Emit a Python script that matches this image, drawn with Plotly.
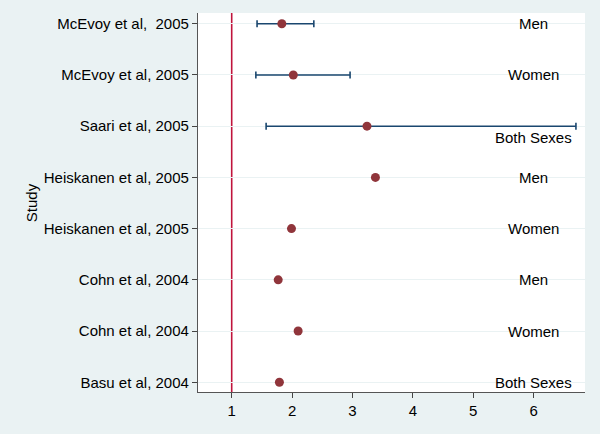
import plotly.graph_objects as go

studies = ["McEvoy et al,\u00a0 2005", "McEvoy et al, 2005", "Saari et al, 2005",
           "Heiskanen et al, 2005", "Heiskanen et al, 2005", "Cohn et al, 2004",
           "Cohn et al, 2004", "Basu et al, 2004"]
groups = ["Men", "Women", "Both Sexes", "Men", "Women", "Men", "Women", "Both Sexes"]
estimate = [1.83, 2.02, 3.24, 3.38, 1.99, 1.77, 2.10, 1.79]
ci_low = [1.42, 1.40, 1.57, None, None, None, None, None]
ci_high = [2.36, 2.96, 6.70, None, None, None, None, None]
rows = list(range(1, len(studies) + 1))
x_ticks = [1, 2, 3, 4, 5, 6]
ref_value = 1

BG = "#eaf2f3"
NAVY = "#1a476f"
MAROON = "#90353b"

fig = go.Figure()

# confidence intervals
for r, lo, hi, est in zip(rows, ci_low, ci_high, estimate):
    if lo is None:
        continue
    fig.add_trace(go.Scatter(
        x=[est], y=[r], mode="markers",
        marker=dict(size=1, color="rgba(0,0,0,0)"),
        error_x=dict(type="data", symmetric=False, array=[hi - est], arrayminus=[est - lo],
                     color=NAVY, thickness=1.6, width=3.5),
        showlegend=False, hoverinfo="skip"))

fig.add_trace(go.Scatter(
    x=estimate, y=rows, mode="markers",
    marker=dict(size=9, color=MAROON),
    showlegend=False))

fig.add_shape(type="line", xref="x", yref="paper", x0=ref_value, x1=ref_value, y0=0, y1=1,
              line=dict(color="#c0143c", width=1.6), layer="below")

for r, g in zip(rows, groups):
    shift = -11 if (g == "Both Sexes" and r != rows[-1]) else 0
    fig.add_annotation(x=6, y=r, text=g, showarrow=False, xanchor="center", yanchor="middle",
                       yshift=shift, font=dict(size=15, color="black"))

fig.add_annotation(xref="paper", yref="paper", x=-0.457, y=0.5, text="Study",
                   textangle=-90, showarrow=False, font=dict(size=15, color="black"))

fig.update_layout(
    width=600, height=434,
    margin=dict(l=198, r=15, t=13, b=42),
    paper_bgcolor=BG, plot_bgcolor="white",
    font=dict(family="Liberation Sans, Arial, sans-serif", size=15, color="black"),
    xaxis=dict(range=[0.442, 6.85], tickvals=x_ticks, ticks="outside", ticklen=5,
               tickcolor="#444", showgrid=False, zeroline=False, showline=True,
               linecolor="#555", linewidth=1.2, tickfont=dict(size=15)),
    yaxis=dict(range=[8.19, 0.79], tickvals=rows, ticktext=studies, ticks="outside",
               ticklen=5, tickcolor="#444", showgrid=True, gridcolor=BG, gridwidth=1,
               zeroline=False, showline=True, linecolor="#555", linewidth=1.2,
               tickfont=dict(size=15)),
)

fig.write_html("out.html", config={"displayModeBar": False},
               post_script="document.body.style.margin='0';document.body.style.padding='0';")
